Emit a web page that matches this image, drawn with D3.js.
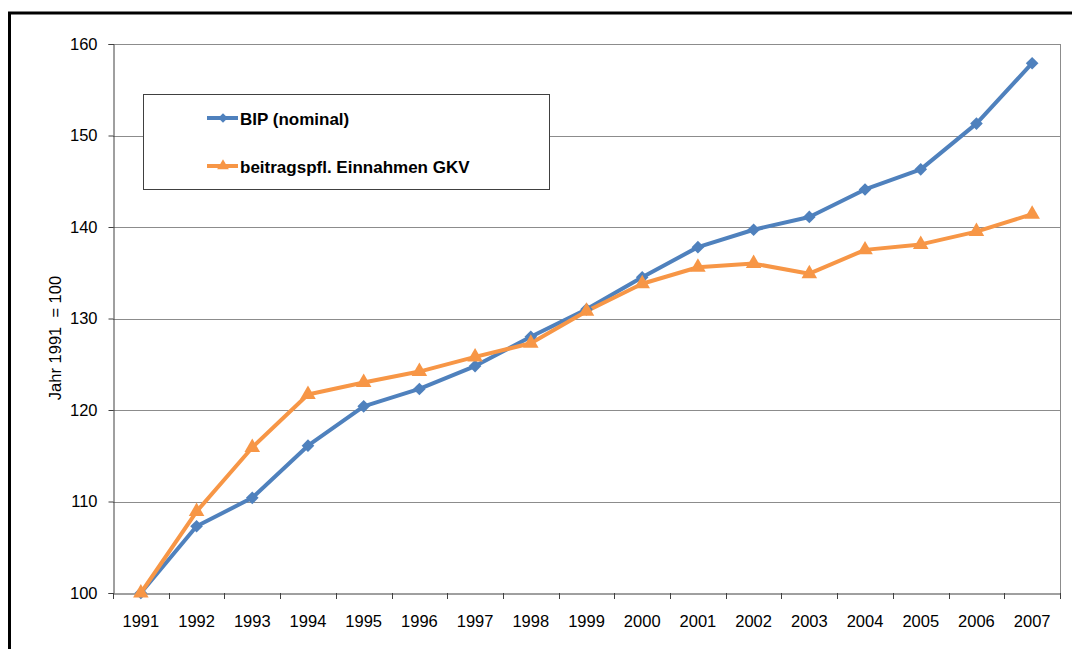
<!DOCTYPE html>
<html><head><meta charset="utf-8">
<script src="https://cdn.jsdelivr.net/npm/d3@7"></script>
<style>body{margin:0;background:#fff}svg{display:block;font-family:"Liberation Sans",Arial,sans-serif}</style>
</head><body>
<svg id="c" width="1072" height="649"></svg>
<script>
const years = ["1991","1992","1993","1994","1995","1996","1997","1998","1999","2000","2001","2002","2003","2004","2005","2006","2007"];
const bip = [100,107.3,110.4,116.1,120.4,122.3,124.8,128.0,131.0,134.5,137.8,139.7,141.1,144.1,146.3,151.3,157.9];
const gkv = [100,108.9,115.9,121.7,123.0,124.2,125.8,127.3,130.8,133.8,135.6,136.0,134.9,137.5,138.1,139.5,141.4];
const yTicks = [100,110,120,130,140,150,160];
const seriesNames = ["BIP (nominal)","beitragspfl. Einnahmen GKV"];

const svg = d3.select("#c");
const L=113, R=1060, T=44, B=593;
const x = d3.scaleBand().domain(years).range([L,R]);
const y = d3.scaleLinear().domain([100,160]).range([B,T]);

// outer frame
svg.append("line").attr("x1",8).attr("x2",1072).attr("y1",13).attr("y2",13).attr("stroke","#000").attr("stroke-width",3);
svg.append("line").attr("x1",9.5).attr("x2",9.5).attr("y1",12).attr("y2",649).attr("stroke","#000").attr("stroke-width",3);

// gridlines
svg.append("g").selectAll("line").data(yTicks.slice(1)).join("line")
  .attr("x1",L).attr("x2",R).attr("y1",d=>Math.round(y(d))+0.5).attr("y2",d=>Math.round(y(d))+0.5)
  .attr("stroke","#8c8c8c").attr("stroke-width",1);
// right border
svg.append("line").attr("x1",R+0.5).attr("x2",R+0.5).attr("y1",T).attr("y2",B).attr("stroke","#8c8c8c");

// y axis
const ya = svg.append("g").attr("transform",`translate(${L+0.5},0)`)
  .call(d3.axisLeft(y).tickValues(yTicks).tickSize(5).tickPadding(11).tickFormat(d3.format("d")));
ya.select(".domain").attr("stroke","#404040");
ya.selectAll(".tick line").attr("stroke","#404040");
ya.selectAll("text").attr("font-size",16.5).attr("fill","#000").attr("font-family","Liberation Sans, Arial");

// x axis
const xa = svg.append("g").attr("transform",`translate(0,${B+0.5})`)
  .call(d3.axisBottom(x).tickSize(0).tickPadding(0));
xa.select(".domain").attr("stroke","#404040");
xa.selectAll("text").attr("font-size",16.5).attr("fill","#000").attr("font-family","Liberation Sans, Arial")
  .attr("dy",null).attr("y",33);
svg.append("g").selectAll("line").data(years.concat(["end"])).join("line")
  .attr("x1",(d,i)=>Math.round(L+i*x.step())+0.5).attr("x2",(d,i)=>Math.round(L+i*x.step())+0.5)
  .attr("y1",B).attr("y2",B+6).attr("stroke","#404040");

// y label
svg.append("text").attr("transform","translate(61,338) rotate(-90)").attr("text-anchor","middle")
  .attr("font-size",16.5).attr("fill","#000").attr("xml:space","preserve").text("Jahr 1991  = 100");

const cx = d=>x(d)+x.bandwidth()/2;
const line = d3.line().x((d,i)=>cx(years[i])).y(d=>y(d));
const colors = ["#4F81BD","#F79646"];
const data = [bip,gkv];
const diamond = d3.symbol().type(d3.symbolSquare).size(80);
const tri = d3.symbol().type(d3.symbolTriangle).size(105);
const mk = k => k===0 ? diamond() : tri();
const rot = k => k===0 ? " rotate(45)" : "";

data.forEach((s,k)=>{
  svg.append("path").attr("d",line(s)).attr("fill","none").attr("stroke",colors[k]).attr("stroke-width",4).attr("stroke-linejoin","round");
});
data.forEach((s,k)=>{
  svg.append("g").selectAll("path").data(s).join("path")
    .attr("transform",(d,i)=>`translate(${cx(years[i])},${y(d)})${rot(k)}`)
    .attr("d",mk(k)).attr("fill",colors[k]);
});

// legend
const lg = svg.append("g");
lg.append("rect").attr("x",143.5).attr("y",94.5).attr("width",406).attr("height",95).attr("fill","#fff").attr("stroke","#404040");
[118,166].forEach((ly,k)=>{
  lg.append("line").attr("x1",207).attr("x2",238).attr("y1",ly).attr("y2",ly).attr("stroke",colors[k]).attr("stroke-width",4);
  lg.append("path").attr("transform",`translate(223,${ly})${rot(k)} scale(0.75)`).attr("d",mk(k)).attr("fill",colors[k]);
  lg.append("text").attr("x",240).attr("y",ly+7).attr("font-size",17).attr("font-weight","bold").attr("fill","#000").text(seriesNames[k]);
});
</script>
</body></html>
